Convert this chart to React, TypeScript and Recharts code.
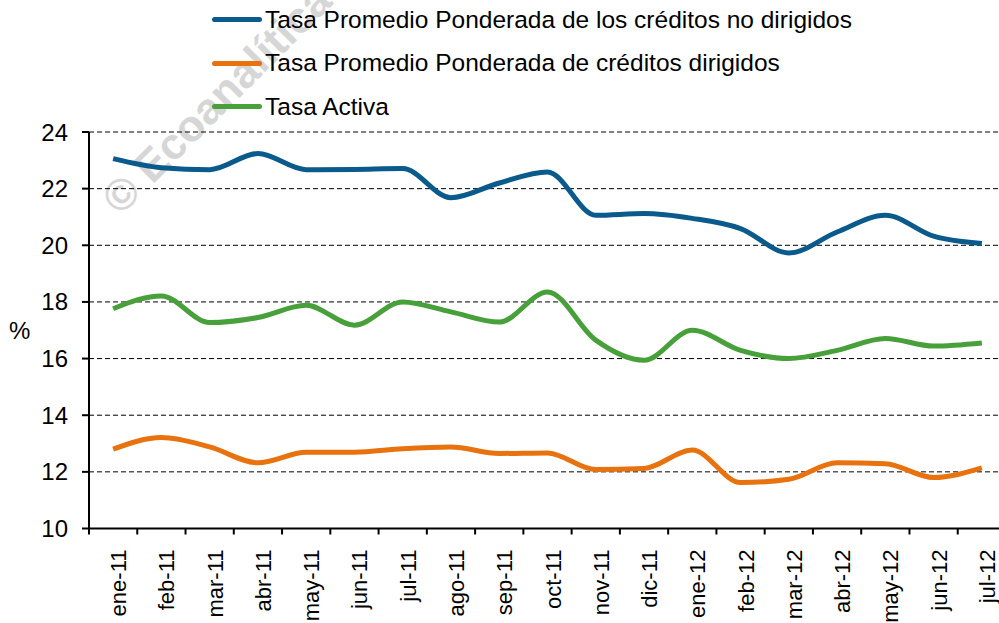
import { LineChart, Line, XAxis, YAxis, CartesianGrid, Legend } from "recharts";

const months = [
  "ene-11", "feb-11", "mar-11", "abr-11", "may-11", "jun-11", "jul-11", "ago-11", "sep-11", "oct-11",
  "nov-11", "dic-11", "ene-12", "feb-12", "mar-12", "abr-12", "may-12", "jun-12", "jul-12",
];

const noDirigidos = [
  23.06, 22.74, 22.67, 23.24, 22.67, 22.68, 22.71, 21.68, 22.2, 22.59,
  21.06, 21.12, 20.95, 20.59, 19.73, 20.47, 21.06, 20.32, 20.06,
];

const dirigidos = [
  12.8, 13.21, 12.88, 12.32, 12.69, 12.69, 12.82, 12.88, 12.65, 12.67,
  12.08, 12.12, 12.77, 11.62, 11.74, 12.32, 12.29, 11.8, 12.14,
];

const activa = [
  17.76, 18.21, 17.27, 17.45, 17.88, 17.18, 18.0, 17.65, 17.29, 18.35,
  16.65, 15.94, 17.0, 16.29, 16.0, 16.29, 16.71, 16.44, 16.55,
];

const yTicks = [10, 12, 14, 16, 18, 20, 22, 24];

const series = [
  { key: "noDirigidos", name: "Tasa Promedio Ponderada de los créditos no dirigidos", color: "#0A5A8B" },
  { key: "dirigidos", name: "Tasa Promedio Ponderada de créditos dirigidos", color: "#E8720E" },
  { key: "activa", name: "Tasa Activa", color: "#47A03A" },
];

const data = months.map((m, i) => ({
  month: m,
  noDirigidos: noDirigidos[i],
  dirigidos: dirigidos[i],
  activa: activa[i],
}));

const FONT = "'Liberation Sans', Arial, sans-serif";
const W = 998;
const H = 615;
const LEFT = 81;
const BAND = (W - LEFT) / months.length;

function XTick(props: any) {
  const { x, y, payload } = props;
  return (
    <g>
      <line x1={x - BAND / 2} x2={x - BAND / 2} y1={y} y2={y + 6} stroke="#000" strokeWidth={2} />
      <text
        transform={`translate(${x + 13}, ${y + 21}) rotate(-90)`}
        textAnchor="end"
        fontSize={22}
        fontFamily={FONT}
        fill="#000"
      >
        {payload.value}
      </text>
    </g>
  );
}

function LegendRows() {
  return (
    <div style={{ fontFamily: FONT, fontSize: 24.5, color: "#000" }}>
      {series.map((s) => (
        <div key={s.key} style={{ display: "flex", alignItems: "center", height: 43.5, whiteSpace: "nowrap" }}>
          <div style={{ width: 50, height: 5, borderRadius: 3, background: s.color, marginRight: 3 }} />
          <span>{s.name}</span>
        </div>
      ))}
    </div>
  );
}

export default function App() {
  return (
    <div style={{ position: "fixed", left: 0, top: 0, width: 999, height: 623, overflow: "hidden", background: "#fff" }}>
      <div style={{ position: "absolute", left: 8, top: 8, width: W, height: H }}>
        <div
          style={{
            position: "absolute",
            left: 102,
            top: 173,
            height: 50,
            lineHeight: "50px",
            transform: "rotate(-45deg)",
            transformOrigin: "0 50%",
            fontFamily: FONT,
            fontWeight: "bold",
            fontSize: 44,
            color: "#d6d6d6",
            whiteSpace: "nowrap",
          }}
        >
          © Ecoanalítica —
        </div>
        <LineChart width={W} height={H} data={data} margin={{ top: 124, right: 0, bottom: 0, left: 0 }}>
          <CartesianGrid vertical={false} stroke="#000" strokeDasharray="5 3" strokeWidth={1} />
          <XAxis
            dataKey="month"
            scale="band"
            height={94.5}
            interval={0}
            tickSize={0}
            tickMargin={0}
            tickLine={false}
            axisLine={{ stroke: "#000", strokeWidth: 2 }}
            tick={<XTick />}
          />
          <YAxis
            width={LEFT}
            domain={[10, 24]}
            ticks={yTicks}
            interval={0}
            tickSize={7}
            tickMargin={14}
            axisLine={{ stroke: "#000", strokeWidth: 2 }}
            tickLine={{ stroke: "#000", strokeWidth: 2 }}
            tick={{ fontSize: 24, fill: "#000", fontFamily: FONT }}
            label={{ value: "%", position: "insideLeft", offset: 1, fontSize: 24, fill: "#000", fontFamily: FONT }}
          />
          <Legend
            verticalAlign="middle"
            layout="horizontal"
            align="center"
            wrapperStyle={{ top: -10, left: 204, width: 780 }}
            content={<LegendRows />}
          />
          {series.map((s) => (
            <Line
              key={s.key}
              type="monotone"
              dataKey={s.key}
              name={s.name}
              stroke={s.color}
              strokeWidth={5}
              dot={false}
              activeDot={false}
              isAnimationActive={false}
            />
          ))}
        </LineChart>
      </div>
    </div>
  );
}
